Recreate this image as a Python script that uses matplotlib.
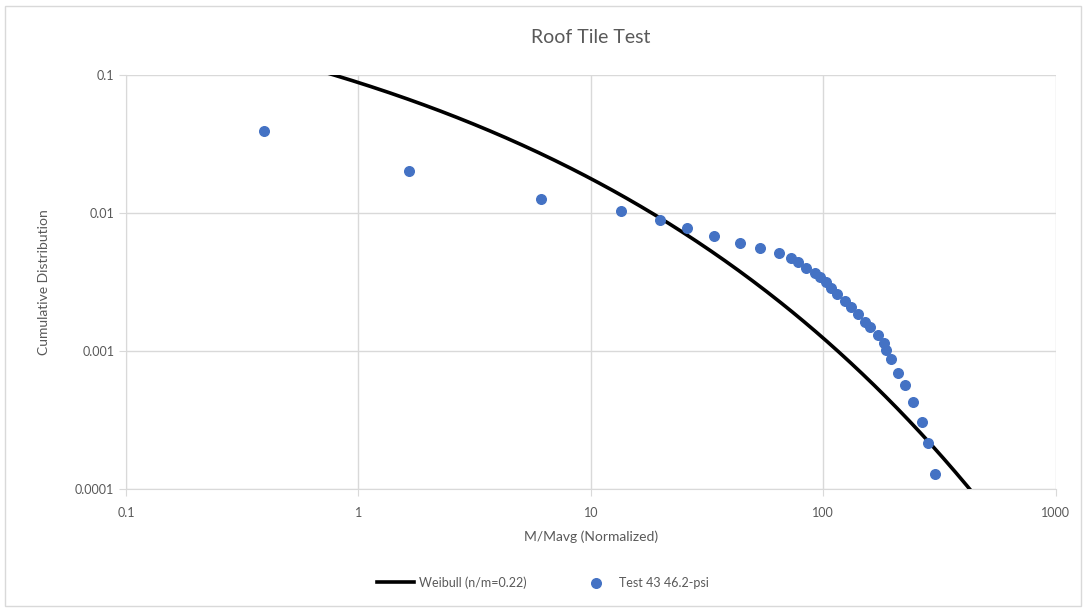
import matplotlib.pyplot as plt
import numpy as np
from matplotlib.patches import Rectangle

plt.rcParams['font.family'] = ['Lato', 'DejaVu Sans']

# measured points, test 43 (46.2 psi)
testX = [0.392, 1.649, 6.10, 13.46, 19.81, 25.88, 33.8, 43.7, 53.7, 64.4,
         73.0, 77.9, 84.7, 91.9, 97.3, 102.5, 108.5, 115.1, 123.7, 131.3,
         141.1, 151.9, 158.5, 172.1, 182.6, 185.7, 195.1, 209.7, 224.1, 243.3,
         266.1, 283.5, 302.7]
testY = [0.0393, 0.02015, 0.01263, 0.01034, 0.00890, 0.00779, 0.00685, 0.00609, 0.00561, 0.00516,
         0.00470, 0.00439, 0.00398, 0.00369, 0.00342, 0.00315, 0.00285, 0.00259, 0.00230, 0.00209,
         0.00185, 0.00163, 0.00148, 0.00130, 0.00114, 0.00102, 0.00087, 0.00069, 0.000567, 0.000429,
         0.000304, 0.000217, 0.000128]

# weibull model parameters
shape = 0.22
coef = 2.43

xTicks = [0.1, 1, 10, 100, 1000]
xTickLabels = ['0.1', '1', '10', '100', '1000']
yTicks = [0.0001, 0.001, 0.01, 0.1]
yTickLabels = ['0.0001', '0.001', '0.01', '0.1']

grey = '#595959'
gridGrey = '#d9d9d9'

fig = plt.figure(figsize=(10.86, 6.09), dpi=100)
ax = fig.add_axes([0.116, 0.197, 0.856, 0.680])

xs = np.logspace(-1, 3, 400)
ax.plot(xs, np.exp(-coef * xs ** shape), color='black', linewidth=2.6,
        label='Weibull (n/m=0.22)', zorder=3)
ax.scatter(testX, testY, s=48, color='#4472C4', label='Test 43 46.2-psi', zorder=4)

ax.set_xscale('log')
ax.set_yscale('log')
ax.set_xlim(0.1, 1000)
ax.set_ylim(0.0001, 0.1)
ax.set_xticks(xTicks)
ax.set_xticklabels(xTickLabels)
ax.set_yticks(yTicks)
ax.set_yticklabels(yTickLabels)
ax.minorticks_off()
ax.tick_params(axis='both', colors=gridGrey, labelcolor=grey, labelsize=9, length=5)
ax.tick_params(axis='x', pad=8)
ax.grid(True, color=gridGrey, linewidth=1)
ax.set_axisbelow(True)
for side in ['top', 'right']:
    ax.spines[side].set_visible(False)
for side in ['left', 'bottom']:
    ax.spines[side].set_color(gridGrey)

ax.set_title('Roof Tile Test', fontsize=14, color=grey, pad=23)
ax.set_xlabel('M/Mavg (Normalized)', fontsize=10, color=grey, labelpad=8)
ax.set_ylabel('Cumulative Distribution', fontsize=10, color=grey, labelpad=18)

fig.legend(loc='lower center', bbox_to_anchor=(0.5, 0.015), ncol=2, frameon=False,
           fontsize=9, labelcolor=grey, handlelength=3, handletextpad=0.4,
           columnspacing=4)

fig.patches.append(Rectangle((0.005, 0.005), 0.99, 0.985, transform=fig.transFigure,
                             fill=False, edgecolor=gridGrey, linewidth=1))

fig.savefig('out.png', dpi=100)
